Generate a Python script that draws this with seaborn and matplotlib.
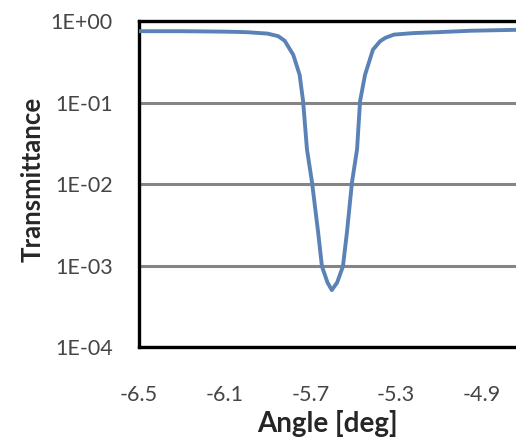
import numpy as np
import pandas as pd
import matplotlib
matplotlib.use("Agg")
import matplotlib.pyplot as plt
import seaborn as sns

# 数据
angle_deg = [-6.50, -6.30, -6.10, -6.00, -5.90, -5.85, -5.82, -5.78, -5.75,
             -5.734, -5.716, -5.692, -5.664, -5.646, -5.62, -5.60, -5.575,
             -5.548, -5.529, -5.506, -5.482, -5.468, -5.445, -5.408, -5.375,
             -5.35, -5.31, -5.22, -5.10, -4.95, -4.74]
transmittance = [0.76, 0.76, 0.75, 0.74, 0.71, 0.66, 0.58, 0.39, 0.22,
                 0.105, 0.027, 0.0104, 0.0026, 0.00098, 0.00062, 0.00050, 0.00062,
                 0.00098, 0.0026, 0.0104, 0.027, 0.105, 0.22, 0.45, 0.57,
                 0.63, 0.69, 0.72, 0.74, 0.77, 0.79]
x_ticks = [-6.5, -6.1, -5.7, -5.3, -4.9]
y_ticks = [1e-4, 1e-3, 1e-2, 1e-1, 1e0]
y_tick_labels = ["1E-04", "1E-03", "1E-02", "1E-01", "1E+00"]

df = pd.DataFrame({"Angle": angle_deg, "Transmittance": transmittance})

sns.set_style("white")
plt.rcParams["font.family"] = ["Lato", "DejaVu Sans"]

fig = plt.figure(figsize=(5.16, 4.45), dpi=100)
ax = fig.add_axes([0.2694, 0.2202, 0.7306, 0.7315])

sns.lineplot(data=df, x="Angle", y="Transmittance", ax=ax,
             color="#5b82b6", linewidth=2.8, zorder=3)

ax.set_yscale("log")
ax.set_ylim(1e-4, 1e0)
ax.set_xlim(-6.5, -4.74)
ax.set_yticks(y_ticks)
ax.set_yticklabels(y_tick_labels)
ax.minorticks_off()
ax.set_xticks(x_ticks)
ax.set_xticklabels([f"{v:.1f}" for v in x_ticks])

# 网格线和边框
ax.yaxis.grid(True, color="#858585", linewidth=2.2)
ax.xaxis.grid(False)
for side in ["left", "bottom", "top"]:
    ax.spines[side].set_color("black")
    ax.spines[side].set_linewidth(2.4)
ax.spines["right"].set_visible(False)

ax.tick_params(axis="y", length=0, pad=19, labelsize=15.5, labelcolor="#454545")
ax.tick_params(axis="x", length=0, pad=27, labelsize=15.5, labelcolor="#454545")

ax.set_xlabel("Angle [deg]", fontsize=20, fontweight="bold", labelpad=4)
ax.set_ylabel("Transmittance", fontsize=18.5, fontweight="bold")
ax.yaxis.set_label_coords(-0.25, 0.515)

fig.savefig("out.png", dpi=100)
